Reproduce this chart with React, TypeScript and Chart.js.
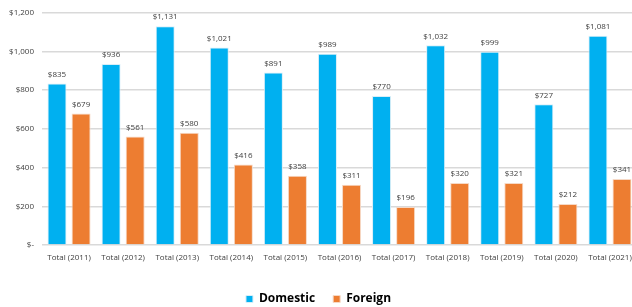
import React, { useEffect, useRef } from "react";
import { Chart, registerables } from "chart.js";

Chart.register(...registerables);

const categories = ["Total (2011)", "Total (2012)", "Total (2013)", "Total (2014)", "Total (2015)", "Total (2016)", "Total (2017)", "Total (2018)", "Total (2019)", "Total (2020)", "Total (2021)"];
const domestic = [835, 936, 1131, 1021, 891, 989, 770, 1032, 999, 727, 1081];
const foreign = [679, 561, 580, 416, 358, 311, 196, 320, 321, 212, 341];
const seriesNames = ["Domestic", "Foreign"];

const fmt = (v: number) => (v === 0 ? "$-" : "$" + v.toLocaleString("en-US"));

const labelPlugin = {
  id: "barLabels",
  afterDatasetsDraw(chart: any) {
    const ctx = chart.ctx;
    ctx.save();
    ctx.font = "8px 'Open Sans', sans-serif";
    ctx.fillStyle = "#404040";
    ctx.textAlign = "center";
    ctx.textBaseline = "bottom";
    chart.data.datasets.forEach((ds: any, i: number) => {
      const meta = chart.getDatasetMeta(i);
      meta.data.forEach((bar: any, j: number) => {
        ctx.fillText(fmt(ds.data[j]), bar.x, bar.y - 5);
      });
    });
    ctx.restore();
  },
};

export default function App() {
  const ref = useRef<HTMLCanvasElement>(null);
  useEffect(() => {
    if (!ref.current) return;
    const chart = new Chart(ref.current, {
      type: "bar",
      data: {
        labels: categories,
        datasets: [
          { label: seriesNames[0], data: domestic, backgroundColor: "#00B0F0", borderColor: "#d8eef8", borderWidth: 1, categoryPercentage: 0.89, barPercentage: 0.79 },
          { label: seriesNames[1], data: foreign, backgroundColor: "#ED7D31", borderColor: "#f6d9c6", borderWidth: 1, categoryPercentage: 0.89, barPercentage: 0.79 },
        ],
      },
      options: {
        animation: false,
        responsive: true,
        maintainAspectRatio: false,
        layout: { padding: { top: 9, right: 0, left: 0, bottom: -8 } },
        scales: {
          x: {
            grid: { display: false },
            border: { display: false },
            ticks: { color: "#404040", font: { size: 8, family: "'Open Sans', sans-serif" }, maxRotation: 0, autoSkip: false, padding: 0 },
            afterFit: (s: any) => { s.height = 30; },
          },
          y: {
            min: 0,
            max: 1200,
            grid: { color: "#d9d9d9", lineWidth: 1.5, drawTicks: false },
            border: { display: false },
            ticks: { stepSize: 200, color: "#404040", font: { size: 8, family: "'Open Sans', sans-serif" }, padding: 8, callback: (v: any) => fmt(Number(v)) },
            afterFit: (s: any) => { s.width = 42; },
          },
        },
        plugins: {
          legend: {
            position: "bottom",
            labels: {
              usePointStyle: true,
              pointStyle: "rect",
              boxWidth: 7,
              boxHeight: 7,
              padding: 18,
              color: "#000",
              font: { size: 12, weight: "bold", family: "'Open Sans', sans-serif" },
            },
          },
          tooltip: { enabled: false },
        },
      },
      plugins: [labelPlugin],
    });
    return () => chart.destroy();
  }, []);
  return (
    <div style={{ position: "fixed", left: 0, top: 0, width: 632, height: 307, overflow: "hidden", background: "#fff" }}>
      <div style={{ position: "absolute", left: 0, top: 0, width: 637, height: 307 }}>
        <canvas ref={ref} />
      </div>
    </div>
  );
}
